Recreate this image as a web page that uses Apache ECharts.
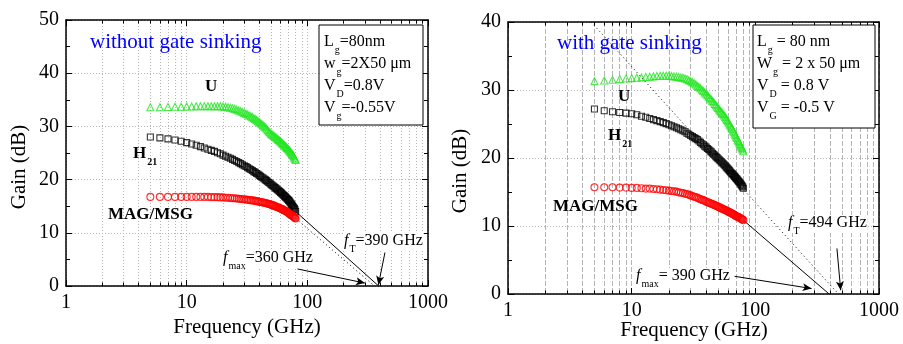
<!DOCTYPE html>
<html><head><meta charset="utf-8">
<script src="https://cdn.jsdelivr.net/npm/echarts@6/dist/echarts.min.js"></script>
<style>html,body{margin:0;padding:0;background:#fff}#c{width:903px;height:344px}</style>
</head><body><div id="c"></div>
<script>
// ---------------- data ----------------
const freqs = [5,6,7,8,9,10,11,12,13,14,15,16,17,18,19,20,21,22,23,24,25,26,27,28,29,30,31,32,33,34,35,36,37,38,39,40,
  41,42,43,44,45,46,47,48,49,50,51,52,53,54,55,56,57,58,59,60,61,62,63,64,65,66,67,68,69,70,71,72,73,74,75,76,77,78,79,80];

const leftU = [33.6,33.6,33.65,33.7,33.7,33.75,33.75,33.8,33.8,33.8,
  33.8,33.8,33.8,33.8,33.8,33.75,33.7,33.6,33.5,33.4,
  33.3,33.15,33.0,32.85,32.7,32.55,32.4,32.25,32.05,31.9,
  31.75,31.55,31.4,31.2,31.0,30.8,30.6,30.4,30.2,30.0,
  29.8,29.55,29.3,29.05,28.85,28.65,28.5,28.35,28.2,28.05,
  27.9,27.75,27.6,27.45,27.3,27.15,27.0,26.85,26.7,26.55,
  26.4,26.25,26.1,25.95,25.8,25.65,25.5,25.3,25.15,24.95,
  24.8,24.6,24.4,24.15,23.95,23.7];
const leftH21 = [28.0,27.85,27.65,27.45,27.2,26.95,26.7,26.45,26.2,25.95,
  25.7,25.5,25.3,25.05,24.85,24.6,24.4,24.2,24.0,23.8,
  23.6,23.4,23.2,23.0,22.8,22.6,22.45,22.25,22.05,21.9,
  21.7,21.5,21.35,21.15,21.0,20.8,20.6,20.45,20.3,20.1,
  19.95,19.8,19.6,19.45,19.3,19.1,18.95,18.8,18.65,18.5,
  18.35,18.2,18.05,17.9,17.75,17.6,17.45,17.3,17.15,17.0,
  16.85,16.7,16.55,16.4,16.25,16.1,15.95,15.75,15.55,15.35,
  15.15,14.95,14.75,14.55,14.3,14.0];
const leftMAG = [16.75,16.75,16.75,16.75,16.75,16.75,16.75,16.75,16.75,16.75,
  16.75,16.7,16.7,16.7,16.65,16.65,16.6,16.6,16.55,16.5,
  16.5,16.45,16.4,16.35,16.3,16.3,16.25,16.2,16.15,16.1,
  16.1,16.05,16.0,15.95,15.9,15.85,15.8,15.75,15.7,15.65,
  15.6,15.55,15.45,15.4,15.35,15.3,15.2,15.15,15.1,15.0,
  14.95,14.85,14.8,14.7,14.65,14.55,14.5,14.4,14.35,14.25,
  14.15,14.1,14.0,13.9,13.8,13.7,13.6,13.5,13.4,13.3,
  13.2,13.1,13.0,12.9,12.8,12.7];

const rightU = [31.3,31.4,31.5,31.6,31.7,31.75,31.8,31.85,31.9,31.95,
  32.0,32.05,32.1,32.1,32.1,32.1,32.05,32.0,31.95,31.9,
  31.85,31.8,31.7,31.6,31.45,31.3,31.15,31.0,30.8,30.6,
  30.45,30.25,30.05,29.85,29.65,29.45,29.25,29.0,28.8,28.6,
  28.4,28.2,27.95,27.75,27.55,27.35,27.15,26.95,26.8,26.6,
  26.45,26.25,26.05,25.8,25.6,25.4,25.2,24.95,24.75,24.5,
  24.3,24.05,23.85,23.6,23.4,23.15,22.95,22.7,22.5,22.3,
  22.05,21.85,21.65,21.45,21.25,21.0];
const rightH21 = [27.2,26.95,26.8,26.7,26.6,26.5,26.35,26.15,26.0,25.8,
  25.65,25.5,25.35,25.2,25.05,24.9,24.75,24.6,24.45,24.3,
  24.15,24.0,23.85,23.65,23.5,23.3,23.15,23.0,22.85,22.7,
  22.5,22.3,22.1,21.95,21.75,21.6,21.4,21.25,21.05,20.9,
  20.7,20.55,20.4,20.2,20.05,19.9,19.75,19.6,19.45,19.3,
  19.15,19.0,18.85,18.7,18.55,18.4,18.25,18.1,17.95,17.8,
  17.7,17.55,17.4,17.3,17.15,17.0,16.9,16.75,16.6,16.5,
  16.35,16.2,16.05,15.9,15.75,15.55];
const rightMAG = [15.7,15.7,15.7,15.65,15.65,15.6,15.6,15.55,15.5,15.5,
  15.45,15.4,15.35,15.3,15.25,15.2,15.15,15.1,15.05,14.95,
  14.9,14.85,14.75,14.7,14.6,14.5,14.4,14.3,14.25,14.15,
  14.05,13.95,13.85,13.8,13.7,13.6,13.5,13.45,13.35,13.3,
  13.2,13.15,13.05,13.0,12.9,12.85,12.75,12.7,12.6,12.55,
  12.5,12.4,12.35,12.3,12.2,12.15,12.1,12.0,11.95,11.9,
  11.8,11.75,11.7,11.6,11.55,11.45,11.4,11.35,11.3,11.25,
  11.2,11.1,11.05,11.0,10.95,10.85];

// extrapolation lines (-20 dB/dec)
const leftSolidFreq = [80, 390], leftSolidGain = [14.0, 0];
const leftDotFreq = [80, 360], leftDotGain = [12.7, 0];
const rightSolidFreq = [80, 395], rightSolidGain = [10.85, 0];
const rightDotFreq = [4.7, 470], rightDotGain = [40, 0];

// axes / tick labels
const xTickLabels = [1, 10, 100, 1000];
const leftYTicks = [0, 10, 20, 30, 40, 50];
const rightYTicks = [0, 10, 20, 30, 40];

// ---------------- chart ----------------
const FONT = 'Liberation Serif';
const pairs = (xs, ys) => xs.map((x, i) => [x, ys[i]]);
const chart = echarts.init(document.getElementById('c'), null, {renderer: 'canvas'});

const grids = [
  {left: 66, top: 20, width: 362, height: 266},
  {left: 508, top: 22, width: 371, height: 272}
];

function xAxis(g, pos, dashType) {
  const bottom = pos === 'bottom';
  return {
    type: 'log', logBase: 10, gridIndex: g, position: pos,
    min: xTickLabels[0], max: xTickLabels[xTickLabels.length - 1],
    axisLine: {show: true, onZero: false, lineStyle: {color: '#000', width: 1.5}},
    axisTick: {show: true, inside: true, length: 6, lineStyle: {color: '#000', width: 1}},
    minorTick: {show: true, splitNumber: 9, length: 3.5, lineStyle: {color: '#000', width: 1}},
    axisLabel: {show: bottom, color: '#000', fontFamily: FONT, fontSize: 20, margin: 7,
      formatter: v => String(Math.round(v))},
    splitLine: {show: bottom, lineStyle: {color: '#b4b4b4', width: 1, type: dashType}},
    minorSplitLine: {show: bottom, lineStyle: {color: '#b4b4b4', width: 1, type: dashType}}
  };
}
function yAxis(g, pos, ticks) {
  const left = pos === 'left';
  return {
    type: 'value', gridIndex: g, position: pos,
    min: ticks[0], max: ticks[ticks.length - 1], interval: 10,
    axisLine: {show: true, onZero: false, lineStyle: {color: '#000', width: 1.5}},
    axisTick: {show: true, inside: true, length: 6, lineStyle: {color: '#000', width: 1}},
    minorTick: {show: true, splitNumber: 2, length: 4, lineStyle: {color: '#000', width: 1}},
    axisLabel: {show: left, color: '#000', fontFamily: FONT, fontSize: 20, margin: 7},
    splitLine: {show: left, lineStyle: {color: '#b4b4b4', width: 1, type: [1, 2]}}
  };
}

function markers(name, xi, yi, ys, symbol, color, size) {
  return {
    name, type: 'scatter', xAxisIndex: xi, yAxisIndex: yi, data: pairs(freqs, ys),
    symbol, symbolSize: size, z: 5,
    itemStyle: {color: 'rgba(0,0,0,0)', borderColor: color, borderWidth: 1.1}
  };
}
function lineS(xi, yi, fx, gy, type) {
  return {
    type: 'line', xAxisIndex: xi, yAxisIndex: yi, data: pairs(fx, gy),
    symbol: 'none', z: 3, lineStyle: {color: '#000', width: 1, type}
  };
}
function arrows(xi, yi, segs) {
  return {
    type: 'line', xAxisIndex: xi, yAxisIndex: yi, data: [], z: 4,
    markLine: {
      silent: true, symbol: ['none', 'arrow'], symbolSize: [6, 9],
      label: {show: false}, animation: false,
      lineStyle: {color: '#000', width: 1, type: 'solid'},
      data: segs.map(s => [{coord: s[0]}, {coord: s[1]}])
    }
  };
}

const GREEN = '#22e622', RED = '#ff0000';

// text helpers
const richBase = (fs, bold) => ({
  m: {fontFamily: FONT, fontSize: fs, fontWeight: bold ? 'bold' : 'normal', lineHeight: fs + 2, verticalAlign: 'top', fill: '#000'},
  i: {fontFamily: FONT, fontSize: fs, fontStyle: 'italic', lineHeight: fs + 2, verticalAlign: 'top', fill: '#000'},
  s: {fontFamily: FONT, fontSize: 10, fontWeight: bold ? 'bold' : 'normal', lineHeight: 10, verticalAlign: 'top', padding: [fs - 5, 0, 0, 1], fill: '#000'}
});
function rtext(x, cy, text, fs, bold, bg) {
  return {
    type: 'text', x: x, y: cy - (fs + 2) / 2, z: 100,
    style: {text, rich: richBase(fs, bold), align: 'left', verticalAlign: 'top',
      backgroundColor: bg || 'transparent', padding: bg ? [0, 1, 0, 1] : 0}
  };
}
function ptext(x, cy, text, fs, opts) {
  return {
    type: 'text', x, y: cy, z: 100,
    style: Object.assign({text, fontFamily: FONT, fontSize: fs, fill: '#000', align: 'left', verticalAlign: 'middle'}, opts || {})
  };
}

const graphics = [
  // legend boxes
  {type: 'rect', shape: {x: 319, y: 25, width: 104, height: 100}, z: 90, style: {fill: '#fff', stroke: '#000', lineWidth: 1}},
  {type: 'rect', shape: {x: 753, y: 25, width: 122, height: 103}, z: 90, style: {fill: '#fff', stroke: '#000', lineWidth: 1}},
  // left box
  rtext(324, 43, '{m|L}{s|g}{m|=80nm}', 16),
  rtext(324, 65, '{m|w}{s|g}{m|=2X50 \u03bcm}', 16),
  rtext(324, 87, '{m|V}{s|D}{m|=0.8V}', 16),
  rtext(324, 109, '{m|V}{s|g}{m|=-0.55V}', 16),
  // right box
  rtext(757, 43, '{m|L}{s|g}{m| = 80 nm}', 16),
  rtext(757, 65, '{m|W}{s|g}{m| = 2 x 50 \u03bcm}', 16),
  rtext(757, 87, '{m|V}{s|D}{m| = 0.8 V}', 16),
  rtext(757, 109, '{m|V}{s|G}{m| = -0.5 V}', 16),
  // titles
  ptext(90, 42, 'without gate sinking', 21, {fill: '#0000ff'}),
  ptext(557, 43, 'with gate sinking', 21, {fill: '#0000ff'}),
  // curve labels
  ptext(205, 87, 'U', 17, {fontWeight: 'bold'}),
  rtext(133, 155, '{m|H}{s|21}', 17, true),
  ptext(108, 215, 'MAG/MSG', 17, {fontWeight: 'bold'}),
  ptext(618, 97, 'U', 17, {fontWeight: 'bold'}),
  rtext(608, 137, '{m|H}{s|21}', 17, true),
  ptext(553, 207, 'MAG/MSG', 17, {fontWeight: 'bold'}),
  // fT / fmax labels
  rtext(343, 242, '{i|f}{s|T}{m|=390 GHz}', 16, false, '#fff'),
  rtext(222, 259, '{i|f}{s|max}{m|=360 GHz}', 16, false, '#fff'),
  rtext(787, 224, '{i|f}{s|T}{m|=494 GHz}', 16, false, '#fff'),
  rtext(635, 277, '{i|f}{s|max}{m|= 390 GHz}', 16, false, '#fff'),
  // axis names
  ptext(247, 327, 'Frequency (GHz)', 21, {align: 'center'}),
  ptext(694, 330, 'Frequency (GHz)', 21, {align: 'center'}),
  {type: 'text', x: 19, y: 167, rotation: Math.PI / 2, z: 100,
    style: {text: 'Gain (dB)', fontFamily: FONT, fontSize: 21, fill: '#000', align: 'center', verticalAlign: 'middle'}},
  {type: 'text', x: 460, y: 171, rotation: Math.PI / 2, z: 100,
    style: {text: 'Gain (dB)', fontFamily: FONT, fontSize: 21, fill: '#000', align: 'center', verticalAlign: 'middle'}}
];

const option = {
  animation: false,
  backgroundColor: '#fff',
  grid: grids,
  xAxis: [xAxis(0, 'bottom', [1, 2]), xAxis(0, 'top', [1, 2]), xAxis(1, 'bottom', [5, 2]), xAxis(1, 'top', [5, 2])],
  yAxis: [yAxis(0, 'left', leftYTicks), yAxis(0, 'right', leftYTicks), yAxis(1, 'left', rightYTicks), yAxis(1, 'right', rightYTicks)],
  series: [
    lineS(0, 0, leftSolidFreq, leftSolidGain, 'solid'),
    lineS(0, 0, leftDotFreq, leftDotGain, [1, 3]),
    markers('U', 0, 0, leftU, 'triangle', GREEN, 7),
    markers('H21', 0, 0, leftH21, 'rect', '#000', 6),
    markers('MAG/MSG', 0, 0, leftMAG, 'circle', RED, 7),
    arrows(0, 0, [[[83, 3.2], [300, 0.55]], [[440, 6.3], [388, 0.2]]]),
    lineS(2, 2, rightSolidFreq, rightSolidGain, 'solid'),
    lineS(2, 2, rightDotFreq, rightDotGain, [1, 3]),
    markers('U', 2, 2, rightU, 'triangle', GREEN, 7),
    markers('H21', 2, 2, rightH21, 'rect', '#000', 6),
    markers('MAG/MSG', 2, 2, rightMAG, 'circle', RED, 7),
    arrows(2, 2, [[[68, 2.6], [285, 0.8]], [[457, 6.7], [490, 0.55]]])
  ],
  graphic: graphics
};
chart.setOption(option);
</script></body></html>
